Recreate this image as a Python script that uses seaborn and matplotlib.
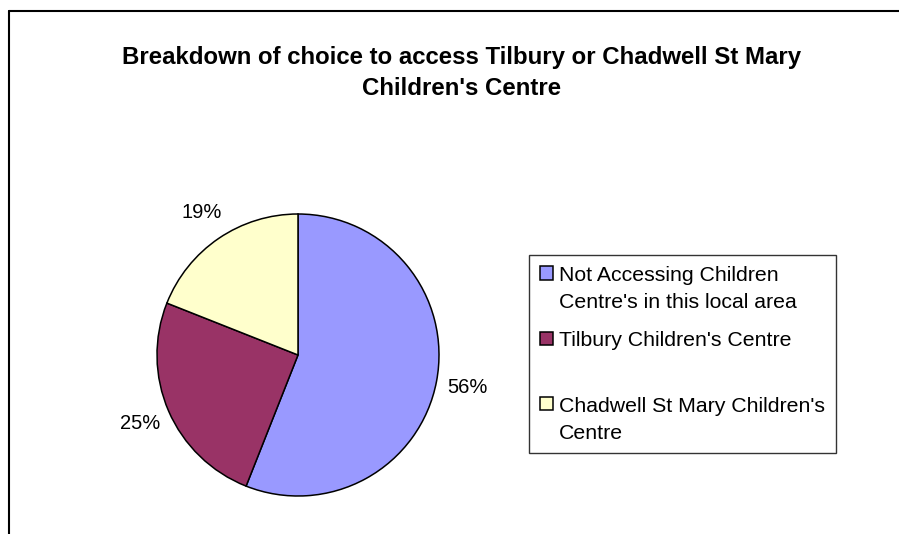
import matplotlib
matplotlib.use("Agg")
import matplotlib.pyplot as plt
import seaborn as sns
from matplotlib.lines import Line2D
from matplotlib.patches import Rectangle
from matplotlib.legend_handler import HandlerPatch

# data
categories = ["Not Accessing Children\nCentre's in this local area",
              "Tilbury Children's Centre\n ",
              "Chadwell St Mary Children's\nCentre"]
shares = [56, 25, 19]
sliceColors = ["#9999FF", "#993366", "#FFFFCC"]
chartTitle = "Breakdown of choice to access Tilbury or Chadwell St Mary\nChildren's Centre"

sns.set_style("white")
plt.rcParams['font.family'] = ['Liberation Sans', 'DejaVu Sans']
plt.rcParams['text.color'] = 'black'

W, H = 899, 534
fig = plt.figure(figsize=(W / 100, H / 100), dpi=100)
fig.patch.set_facecolor("white")

# outer chart border (only left and top visible in the crop)
fig.add_artist(Line2D([8.5 / W, 8.5 / W], [0, 1 - 11 / H], color="black", lw=1.5,
                      transform=fig.transFigure))
fig.add_artist(Line2D([8.5 / W, 1.0], [1 - 11 / H, 1 - 11 / H], color="black", lw=1.5,
                      transform=fig.transFigure))

fig.text(462 / W, 1 - 73 / H, chartTitle, ha="center", va="center", color="black",
         fontsize=17.3, fontweight="bold", linespacing=1.45)

# pie, centre (298, 355) px, radius ~141 px
cx, cy, side = 298, 355, 423
ax = fig.add_axes([(cx - side / 2) / W, (H - cy - side / 2) / H, side / W, side / H])
wedges, _, autotexts = ax.pie(shares, colors=sliceColors, startangle=90, counterclock=False,
                              autopct="%1.0f%%", pctdistance=1.22,
                              wedgeprops=dict(edgecolor="black", linewidth=1.1),
                              textprops=dict(fontsize=14.5, color="black"))
ax.set_xlim(-1.5, 1.5)
ax.set_ylim(-1.5, 1.5)
ax.set_aspect("equal")
ax.axis("off")


def topSquare(legend, orig_handle, xdescent, ydescent, width, height, fontsize):
    size = 0.62 * fontsize
    return Rectangle((-xdescent, -ydescent + height / 2 - size / 2 + 0.74 * fontsize), size, size)


leg = fig.legend(wedges, categories, loc="upper left",
                 bbox_to_anchor=(529 / W, 1 - 255 / H), bbox_transform=fig.transFigure,
                 borderaxespad=0, fontsize=15.35, frameon=True, fancybox=False,
                 edgecolor="#333333", framealpha=1, borderpad=0.5,
                 handlelength=0.62, handleheight=0.62, handletextpad=0.3,
                 labelspacing=0.9,
                 handler_map={w: HandlerPatch(patch_func=topSquare) for w in wedges})
leg.get_frame().set_linewidth(1.0)
for t in leg.get_texts():
    t.set_linespacing(1.55)
    t.set_color("black")

plt.savefig("out.png", dpi=100)
